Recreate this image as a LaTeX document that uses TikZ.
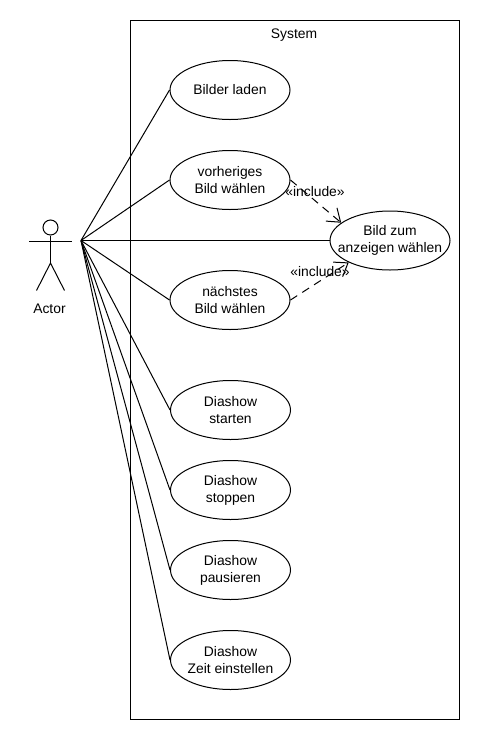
\documentclass[tikz,border=0pt]{standalone}
\usepackage{fontspec}
\setmainfont{Liberation Sans}
\usetikzlibrary{arrows.meta,shapes.geometric}
\tikzset{
 uc/.style={draw=black,line width=0.75pt,ellipse,minimum width=90pt,minimum height=44.25pt,inner sep=-20pt,align=center,font=\fontsize{10.4pt}{12.75pt}\selectfont,execute at begin node={\mbox{}\\[-11.25pt]}},
 assoc/.style={draw=black,line width=0.75pt},
 incl/.style={draw=black,line width=0.75pt,dash pattern=on 6pt off 4.5pt,-{Straight Barb[length=9pt,width=13pt]}},
 lbl/.style={font=\fontsize{10.4pt}{12.75pt}\selectfont,inner sep=0pt}
}
\begin{document}
\begin{tikzpicture}[x=0.75pt,y=-0.75pt]
\useasboundingbox (0,0) rectangle (480,740);
\fill[white] (0,0) rectangle (480,740);
\node[draw=black,line width=0.75pt,minimum width=246.75pt,minimum height=524.25pt,inner sep=0pt] (sys) at (294.5,369.5) {};
\node[lbl] (systitle) at (294,35.5) {System};
\node[uc] (a) at (230,90) {Bilder laden};
\node[uc] (b) at (230,180) {vorheriges\\Bild wählen};
\node[uc] (c) at (230,300) {nächstes\\Bild wählen};
\node[uc] (d) at (230.5,410) {Diashow\\starten};
\node[uc] (e) at (230.5,490) {Diashow\\stoppen};
\node[uc] (f) at (230.5,570) {Diashow\\pausieren};
\node[uc] (g) at (230.5,660) {Diashow\\Zeit einstellen};
\node[uc] (z) at (390,240.5) {Bild zum\\anzeigen wählen};
\coordinate (hand) at (81,240.5);
\node[draw=black,line width=0.75pt,circle,minimum size=11.25pt,inner sep=0pt] (head) at (50.5,227.5) {};
\coordinate (hip) at (50.5,263);
\coordinate (lh) at (29,241);
\coordinate (rh) at (72,241);
\coordinate (lf) at (36.5,290.5);
\coordinate (rf) at (64.5,290.5);
\draw[assoc] (head) -- (hip);
\draw[assoc] (lh) -- (rh);
\draw[assoc] (lf) -- (hip) -- (rf);
\node[lbl] (actor) at (49.5,309) {Actor};
\foreach \n in {a,b,c,d,e,f,g,z} \draw[assoc] (hand) -- (\n.west);
\draw[incl] (b.east) -- (z.160);
\draw[incl] (c.east) -- (z.208);
\node[lbl] (l1) at (315,191.5) {«include»};
\node[lbl] (l2) at (320,271.5) {«include»};
\end{tikzpicture}
\end{document}
